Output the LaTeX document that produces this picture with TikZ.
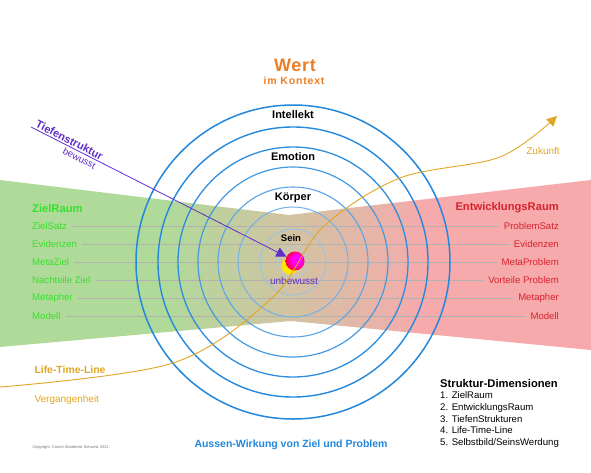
\documentclass[tikz,border=0pt]{standalone}
\usepackage{fontspec}
\setmainfont{Liberation Sans}
\usetikzlibrary{arrows.meta}

\definecolor{zielfill}{RGB}{176,218,154}
\definecolor{entwfill}{RGB}{246,170,172}
\definecolor{zielgruen}{RGB}{55,225,45}
\definecolor{entwrot}{RGB}{215,35,45}
\definecolor{ringblau}{RGB}{35,135,220}
\definecolor{ltlgold}{RGB}{225,165,35}
\definecolor{tiefviolett}{RGB}{95,45,200}
\definecolor{wertorange}{RGB}{235,125,35}
\pgfdeclarehorizontalshading{raumverlauf}{100bp}{color(0bp)=(zielfill); color(39bp)=(zielfill);
  color(61bp)=(entwfill); color(100bp)=(entwfill)}
\pgfdeclareradialshading{kernglut}{\pgfpoint{6bp}{4bp}}{color(0bp)=(magenta); color(12bp)=(magenta);
  color(28bp)=(red!80!magenta); color(42bp)=(red!70!orange); color(50bp)=(orange)}

\begin{document}
\begin{tikzpicture}[x=1pt, y=-1pt, font=\fontsize{9.6}{11}\selectfont,
  zt/.style={text=zielgruen, inner xsep=5pt, inner ysep=1pt},
  et/.style={text=entwrot, inner xsep=5pt, inner ysep=1pt},
  kopf/.style={font=\fontsize{11.2}{13}\selectfont\bfseries},
  zeile/.style={draw=black!30, line width=0.5pt},
  ebene/.style={font=\fontsize{11}{12}\selectfont\bfseries},
  ltl/.style={draw=ltlgold, line width=0.9pt, -{Triangle[length=10pt,width=10pt]}},
  tief/.style={draw=tiefviolett, line width=0.8pt, -{Triangle[length=10pt,width=10pt]}}]
\useasboundingbox (0,0) rectangle (591,472);
% Raum: green left, red right, mixing in the middle
\shade[shading=raumverlauf] (0,180) -- (289,215) -- (591,180) -- (591,350)
  -- (291,321) -- (0,347) -- cycle;
% headings of both sides
\node[zt, kopf, anchor=west] (zielraum) at (27,208) {ZielRaum};
\node[et, kopf, anchor=east] (entwraum) at (564,208) {EntwicklungsRaum};
% rows, joined by grey lines
\foreach \l/\r [count=\i from 0] in {ZielSatz/ProblemSatz, Evidenzen/Evidenzen,
    MetaZiel/MetaProblem, Nachteile Ziel/Vorteile Problem, Metapher/Metapher, Modell/Modell}{
  \node[zt, anchor=west] (zl\i) at (27,{226+18*\i}) {\l};
  \node[et, anchor=east] (er\i) at (564,{226+18*\i}) {\r};
  \draw[zeile] (zl\i) -- (er\i);
}
% rings round the centre
\coordinate (mitte) at (293,262);
\foreach \r/\w/\c in {157/1.5/100, 135/1.4/100, 115/1.3/95, 95/1.2/85, 75/1.1/75,
    55/1/65, 33/0.8/50, 15/0.6/40}
  \draw[draw=ringblau!\c!white, line width=\w] (mitte) circle[radius=\r];
% levels
\node[ebene] (intellekt) at (293,115) {Intellekt};
\node[ebene] (emotion) at (293,157) {Emotion};
\node[ebene] (koerper) at (293,198) {Körper};
\node[font=\fontsize{9.5}{11}\selectfont\bfseries] (sein) at (291,238) {Sein};
\node[text=tiefviolett, font=\fontsize{10}{11}\selectfont] (unbewusst) at (294,281) {unbewusst};
% kernel
\fill[yellow!90!orange] (290,266) circle[radius=8.5];
\node[circle, minimum size=19pt, inner sep=0pt, shading=kernglut] (kern) at (295,261) {};
% Tiefenstruktur arrow
\coordinate (tiefstart) at (31,127);
\draw[tief] (tiefstart) -- (kern)
  node[pos=0.14, sloped, above, inner sep=1.5pt, text=tiefviolett, font=\fontsize{11}{12}\selectfont\bfseries] (tieflbl) {Tiefenstruktur}
  node[pos=0.2, sloped, below, inner sep=2pt, text=tiefviolett, font=\fontsize{9.6}{11}\selectfont] (bewusst) {bewusst};
% Life-Time-Line
\draw[ltl] plot[smooth, tension=0.55] coordinates {(0,387) (173,363) (272,298) (323,227)
  (400,178) (500,157) (557,116)};
\node[anchor=west, text=ltlgold, font=\fontsize{10.4}{12}\selectfont\bfseries] (ltlname) at (31,370) {Life-Time-Line};
\node[anchor=west, text=ltlgold, font=\fontsize{10}{11}\selectfont] (vergangen) at (31,400) {Vergangenheit};
\node[text=ltlgold, font=\fontsize{10}{11}\selectfont] (zukunft) at (543,151) {Zukunft};
% title
\node[text=wertorange, font=\fontsize{18}{20}\selectfont\bfseries\addfontfeature{LetterSpace=4}] (wert) at (295,65) {Wert};
\node[text=wertorange, font=\fontsize{10.5}{12}\selectfont\bfseries\addfontfeature{LetterSpace=8}] (kontext) at (294,81) {im Kontext};
% bottom texts
\node[text=ringblau, font=\fontsize{10.5}{12}\selectfont\bfseries] (aussen) at (291,445) {Aussen-Wirkung von Ziel und Problem};
\node[anchor=west, text=black!55, font=\fontsize{4}{5}\selectfont] (copy) at (29,447) {Copyright: Coach Akademie Schweiz 2021};
\node[anchor=north west, inner sep=0pt, align=left, font=\fontsize{9.6}{11.6}\selectfont] (legende) at (440,379)
  {{\fontsize{11.2}{13}\selectfont\bfseries Struktur-Dimensionen}\\
   1. ZielRaum\\ 2. EntwicklungsRaum\\ 3. TiefenStrukturen\\ 4. Life-Time-Line\\ 5. Selbstbild/SeinsWerdung};
\end{tikzpicture}
\end{document}
